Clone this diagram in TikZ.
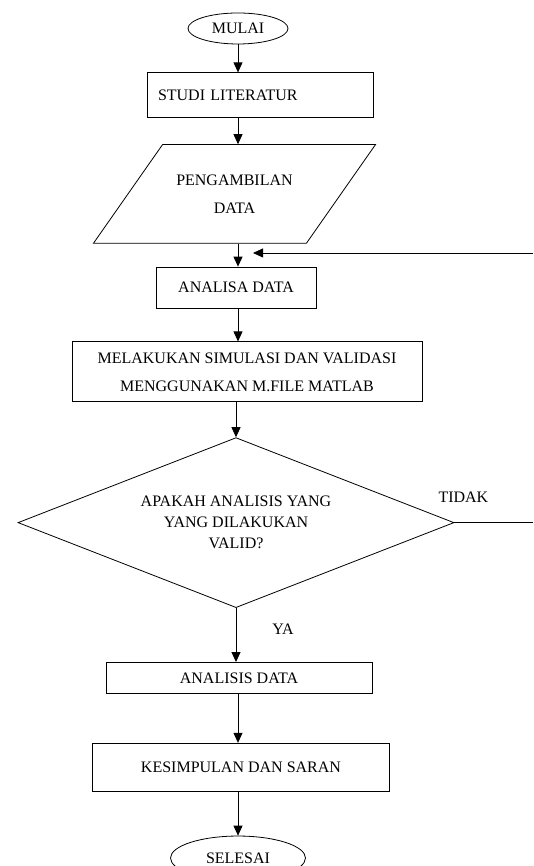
\documentclass[tikz,border=0pt]{standalone}
\usepackage{fontspec}
\setmainfont{Liberation Serif}
\usepackage{tikz}
\usetikzlibrary{shapes.geometric, arrows.meta, positioning}

\begin{document}
\begin{tikzpicture}[
    x=1pt, y=1pt,
    font=\fontsize{16}{21}\selectfont,
    >={Triangle[length=10pt, width=9pt]},
    line width=0.8pt,
    % Styles
    box/.style={
        draw=black, line width=0.8pt, align=center, inner sep=0pt
    },
    terminal/.style={
        ellipse, draw=black, line width=0.8pt, inner sep=0pt
    },
    io_box/.style={
        trapezium, trapezium left angle=55, trapezium right angle=125, trapezium stretches body,
        draw=black, line width=0.8pt, align=center, inner xsep=0pt, inner ysep=30pt
    },
    decision/.style={
        diamond, shape aspect=2.56, draw=black, line width=0.8pt, align=center, inner sep=0pt
    },
    lbl/.style={inner sep=0pt}
]
    \useasboundingbox (0,0) rectangle (533,866);

    % --- 1. Start & preparation ---
    \node[terminal, minimum width=100pt, minimum height=31pt] (mulai) at (238,837.5) {MULAI};
    \node[box, below=28pt of mulai, xshift=22pt, minimum width=226pt, minimum height=45pt, text width=204pt, align=left] (studi) {STUDI LITERATUR};
    \node[io_box, below=26pt of studi, xshift=-25.5pt, minimum width=282pt] (ambil) {PENGAMBILAN\\[7pt]DATA};
    \node[box, below=23pt of ambil, xshift=1.5pt, minimum width=160pt, minimum height=41pt] (analisa) {ANALISA DATA};
    \node[box, below=33pt of analisa, xshift=11pt, minimum width=350pt, minimum height=60pt] (simulasi) {MELAKUKAN SIMULASI DAN VALIDASI\\[7pt]MENGGUNAKAN M.FILE MATLAB};

    % --- 2. Decision ---
    \node[decision, below=35pt of simulasi, xshift=-11pt, minimum width=436pt, minimum height=170pt] (valid) {APAKAH ANALISIS YANG\\YANG DILAKUKAN\\VALID?};

    % --- 3. Results ---
    \node[box, below=54pt of valid, xshift=3pt, minimum width=266pt, minimum height=31pt] (analisis) {ANALISIS DATA};
    \node[box, below=49pt of analisis, xshift=2pt, minimum width=297pt, minimum height=48pt] (simpul) {KESIMPULAN DAN SARAN};
    \node[terminal, below=44pt of simpul, xshift=-3pt, minimum width=135pt, minimum height=44pt] (selesai) {SELESAI};

    % Branch labels
    \node[lbl] (tidak) at ([shift={(9,25)}]valid.east) {TIDAK};
    \node[lbl] (ya) at ([shift={(47,-21)}]valid.south) {YA};

    % Loop back (runs on past the right edge)
    \coordinate (balikA) at (533,613);
    \coordinate (balikB) at (253,613);

    % --- Connections ---
    \draw[->] (mulai) -- (mulai |- studi.north);
    \draw[->] (studi.south -| mulai) -- (ambil.north -| mulai);
    \draw[->] (ambil.south -| mulai) -- (analisa.north -| mulai);
    \draw[->] (analisa.south -| mulai) -- (simulasi.north -| mulai);
    \draw[->] (valid.north |- simulasi.south) -- (valid.north);
    \draw[->] (valid.south) -- (valid.south |- analisis.north);
    \draw[->] (analisis.south -| mulai) -- (simpul.north -| mulai);
    \draw[->] (simpul.south -| mulai) -- (selesai.north -| mulai);
    \draw[->] (balikA) -- (balikB);
    \draw (valid.east) -- (valid.east -| balikA);

\end{tikzpicture}
\end{document}
